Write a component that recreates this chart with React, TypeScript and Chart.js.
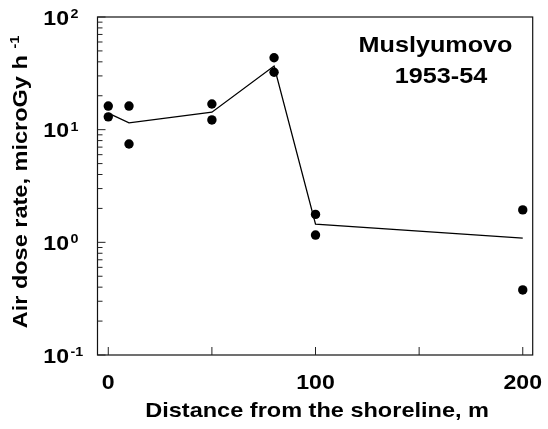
import React, { useEffect, useRef } from 'react';
import { Chart, registerables } from 'chart.js';

Chart.register(...registerables);

// ---- Data ----
const lineDistance = [0, 10, 50, 80, 100, 200];
const lineDose = [14.0, 11.5, 14.3, 36.7, 1.45, 1.09];

const pointDistance = [0, 0, 10, 10, 50, 50, 80, 80, 100, 100, 200, 200];
const pointDose = [16.2, 13.0, 16.2, 7.46, 16.9, 12.2, 43.5, 32.3, 1.77, 1.16, 1.94, 0.378];

const xTickValues = [0, 100, 200];
const xTickLabels = ['0', '100', '200'];
const xMinorValues = [50, 150];
const yDecadeValues = [0.1, 1, 10, 100];
const yDecadeExponents = ['-1', '0', '1', '2'];
const yMinorMultipliers = [2, 3, 4, 5, 6, 7, 8, 9];

const xTitle = 'Distance from the shoreline, m';
const yTitle = 'Air dose rate, microGy h ';
const yTitleSup = '-1';
const annotationLines = ['Muslyumovo', '1953-54'];

const FONT = '"Liberation Sans", Arial, Helvetica, sans-serif';
const SX = 1.12;

function drawText(
  ctx: CanvasRenderingContext2D,
  text: string,
  x: number,
  y: number,
  align: CanvasTextAlign,
  size: number,
  sx: number
) {
  ctx.save();
  ctx.translate(x, y);
  ctx.scale(sx, 1);
  ctx.font = `bold ${size}px ${FONT}`;
  ctx.textAlign = align;
  ctx.textBaseline = 'alphabetic';
  ctx.fillStyle = '#000';
  ctx.fillText(text, 0, 0);
  ctx.restore();
}

const decorPlugin = {
  id: 'decor',
  afterDraw(chart: any) {
    const ctx: CanvasRenderingContext2D = chart.ctx;
    const area = chart.chartArea;
    const xs = chart.scales.x;
    const ys = chart.scales.y;
    ctx.save();

    // frame
    ctx.strokeStyle = '#111';
    ctx.lineWidth = 1.2;
    ctx.strokeRect(area.left, area.top, area.right - area.left, area.bottom - area.top);

    // y ticks (inward)
    ctx.lineWidth = 1;
    ctx.strokeStyle = '#222';
    ctx.beginPath();
    yDecadeValues.forEach((d) => {
      const y = ys.getPixelForValue(d);
      ctx.moveTo(area.left, y);
      ctx.lineTo(area.left + 8, y);
    });
    yDecadeValues.slice(0, -1).forEach((d) => {
      yMinorMultipliers.forEach((m) => {
        const y = ys.getPixelForValue(d * m);
        ctx.moveTo(area.left, y);
        ctx.lineTo(area.left + 5, y);
      });
    });
    // x ticks (inward)
    [...xTickValues, ...xMinorValues].forEach((v) => {
      const x = xs.getPixelForValue(v);
      ctx.moveTo(x, area.bottom);
      ctx.lineTo(x, area.bottom - 8);
    });
    ctx.stroke();

    // y tick labels: 10 with superscript exponent
    yDecadeValues.forEach((d, i) => {
      const y = ys.getPixelForValue(d);
      drawText(ctx, '10', 69, y + 7.8, 'right', 21, 1.1);
      drawText(ctx, yDecadeExponents[i], 70.5, y + 1, 'left', 13, 1.1);
    });

    // x tick labels
    xTickValues.forEach((v, i) => {
      const x = xs.getPixelForValue(v);
      drawText(ctx, xTickLabels[i], x, 389, 'center', 21, 1.1);
    });

    // x title
    drawText(ctx, xTitle, (area.left + area.right) / 2 + 2, 416.5, 'center', 21, SX);

    // y title (rotated) with superscript
    ctx.save();
    ctx.translate(27, (area.top + area.bottom) / 2 - 4);
    ctx.rotate(-Math.PI / 2);
    ctx.scale(SX, 1);
    ctx.fillStyle = '#000';
    ctx.textBaseline = 'alphabetic';
    ctx.font = `bold 21px ${FONT}`;
    const wMain = ctx.measureText(yTitle).width;
    ctx.font = `bold 13px ${FONT}`;
    const wSup = ctx.measureText(yTitleSup).width;
    const start = -(wMain + wSup) / 2;
    ctx.textAlign = 'left';
    ctx.font = `bold 21px ${FONT}`;
    ctx.fillText(yTitle, start, 0);
    ctx.font = `bold 13px ${FONT}`;
    ctx.fillText(yTitleSup, start + wMain, -8);
    ctx.restore();

    // annotation
    drawText(ctx, annotationLines[0], 435.5, 51.5, 'center', 22.5, SX);
    drawText(ctx, annotationLines[1], 441, 83, 'center', 22.5, SX);

    ctx.restore();
  },
};

export default function App() {
  const canvasRef = useRef<HTMLCanvasElement | null>(null);

  useEffect(() => {
    if (!canvasRef.current) return;
    const chart = new Chart(canvasRef.current, {
      type: 'scatter',
      data: {
        datasets: [
          {
            label: 'Mean',
            data: lineDistance.map((x, i) => ({ x, y: lineDose[i] })),
            showLine: true,
            borderColor: '#000',
            borderWidth: 1.3,
            pointRadius: 0,
            order: 1,
          },
          {
            label: 'Measured',
            data: pointDistance.map((x, i) => ({ x, y: pointDose[i] })),
            showLine: false,
            backgroundColor: '#000',
            borderColor: '#000',
            borderWidth: 0,
            pointRadius: 4.7,
            order: 0,
          },
        ],
      },
      options: {
        animation: false,
        responsive: false,
        maintainAspectRatio: false,
        layout: { padding: { left: 97.5, top: 17, right: 15.3, bottom: 74 } },
        plugins: { legend: { display: false }, tooltip: { enabled: false } },
        scales: {
          x: { type: 'linear', display: false, min: -5.2, max: 204.8 },
          y: { type: 'logarithmic', display: false, min: 0.1, max: 100 },
        },
      },
      plugins: [decorPlugin],
    });
    return () => chart.destroy();
  }, []);

  return (
    <div style={{ position: 'absolute', left: 0, top: 0, width: 548, height: 429, background: '#fff' }}>
      <canvas ref={canvasRef} width={548} height={429} style={{ width: 548, height: 429 }} />
    </div>
  );
}
